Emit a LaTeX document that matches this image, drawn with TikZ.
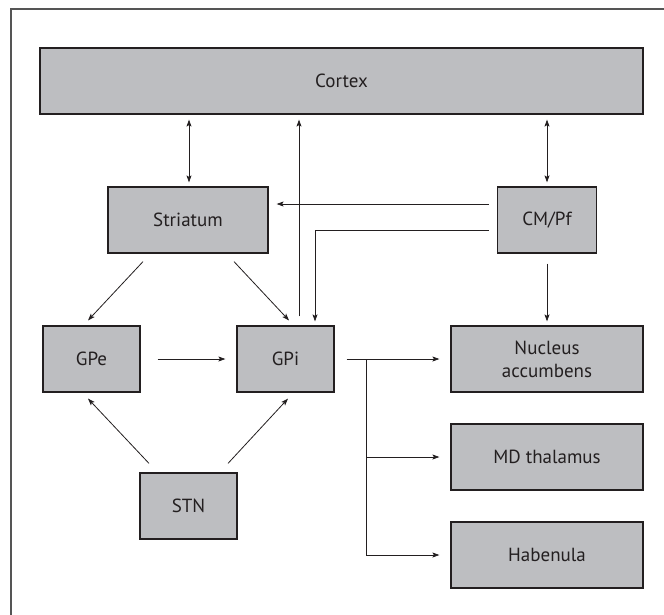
\documentclass[tikz,border=0pt]{standalone}
\usepackage{fontspec}
\setmainfont{PT Sans}
\usetikzlibrary{arrows.meta}
\definecolor{boxfill}{HTML}{BDBEC1}
\definecolor{ink}{HTML}{231F20}
\definecolor{framec}{HTML}{555555}
\begin{document}
\begin{tikzpicture}[x=1pt,y=-1pt,
  box/.style={draw=ink, line width=1.2pt, fill=boxfill, rectangle, inner sep=0pt,
    minimum height=66pt, text=ink, font=\fontsize{19}{23}\selectfont, align=center},
  conn/.style={draw=ink, line width=0.8pt, -{Stealth[length=7pt,width=5pt,inset=1.5pt]}},
  conn2/.style={draw=ink, line width=0.8pt, {Stealth[length=7pt,width=5pt,inset=1.5pt]}-{Stealth[length=7pt,width=5pt,inset=1.5pt]}}]
\useasboundingbox (0,0) rectangle (664,614);
\draw[framec, line width=1.6pt] (11,620) -- (11,9) -- (670,9);

\node[box, minimum width=603pt] (cortex) at (341.5,81) {Cortex};
\node[box, minimum width=160pt] (striatum) at (188,220) {Striatum};
\node[box, minimum width=99pt] (cmpf) at (547,220) {CM/Pf};
\node[box, minimum width=97pt] (gpe) at (91.5,359) {GPe};
\node[box, minimum width=97pt] (gpi) at (285.5,359) {GPi};
\node[box, minimum width=192pt] (na) at (547,359) {Nucleus\\accumbens};
\node[box, minimum width=192pt] (md) at (547,457) {MD thalamus};
\node[box, minimum width=192pt] (hab) at (547,555) {Habenula};
\node[box, minimum width=97pt] (stn) at (188.5,506) {STN};
\coordinate (br) at (366,359);

% Cortex connections
\draw[conn2, shorten <=4pt, shorten >=5pt] ([xshift=1pt]striatum.north) -- ([xshift=1pt]striatum.north |- cortex.south);
\draw[conn, shorten <=9pt, shorten >=5pt] ([xshift=13.5pt]gpi.north) -- ([xshift=13.5pt]gpi.north |- cortex.south);
\draw[conn2, shorten <=4pt, shorten >=5pt] (cmpf.north) -- (cmpf.north |- cortex.south);

% CM/Pf outputs
\draw[conn, shorten <=8pt, shorten >=8pt] ([yshift=16pt]cmpf.west) -- ([yshift=16pt]cmpf.west -| striatum.east);
\draw[conn, shorten <=8pt, shorten >=4pt] ([yshift=-10pt]cmpf.west) -| ([xshift=29.5pt]gpi.north);
\draw[conn, shorten <=10pt, shorten >=4pt] (cmpf.south) -- (na.north);

% Striatum outputs
\draw[conn] ([xshift=-45pt,yshift=-8pt]striatum.south) -- ([xshift=-3.5pt,yshift=5pt]gpe.north);
\draw[conn] ([xshift=46pt,yshift=-8pt]striatum.south) -- ([xshift=3.5pt,yshift=5pt]gpi.north);

% GPe -> GPi
\draw[conn, shorten <=17pt, shorten >=11pt] (gpe.east) -- (gpi.west);

% STN outputs
\draw[conn] ([xshift=-39.5pt,yshift=9pt]stn.north) -- ([xshift=-3.5pt,yshift=-6pt]gpe.south);
\draw[conn] ([xshift=39.5pt,yshift=9pt]stn.north) -- ([xshift=2.5pt,yshift=-6pt]gpi.south);

% GPi outputs
\draw[conn, shorten <=12pt, shorten >=11pt] (gpi.east) -- (na.west);
\draw[conn, shorten >=11pt] (br) |- (hab.west);
\draw[conn, shorten >=11pt] (br |- md.west) -- (md.west);
\end{tikzpicture}
\end{document}
